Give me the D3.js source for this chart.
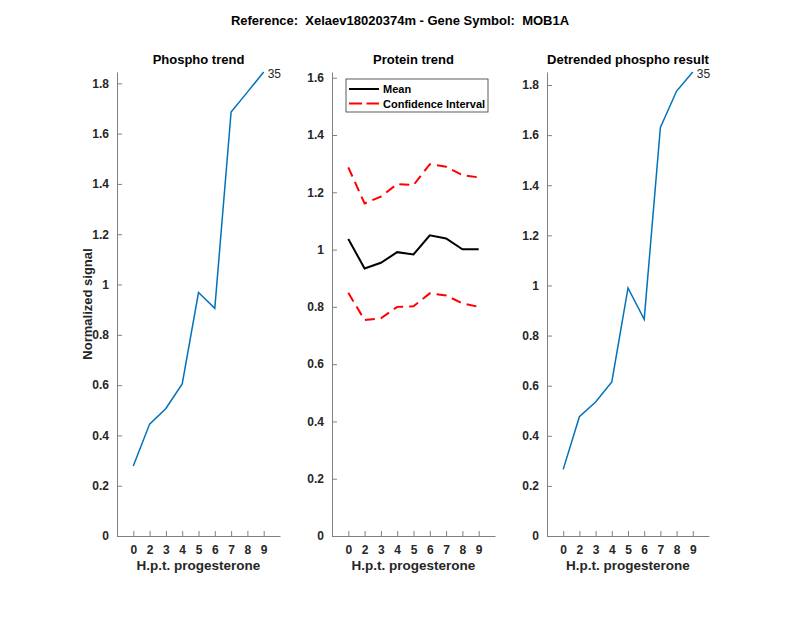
<!DOCTYPE html>
<html>
<head>
<meta charset="utf-8">
<script src="https://cdn.jsdelivr.net/npm/d3@7"></script>
<style>
  body { margin: 0; background: #fff; }
  text { font-family: "Liberation Sans", Arial, sans-serif; white-space: pre; }
</style>
</head>
<body>
<div id="chart"></div>
<script>
const hours = ["0", "2", "3", "4", "5", "6", "7", "8", "9"];
const phospho = [0.278, 0.445, 0.507, 0.605, 0.968, 0.905, 1.686, 1.765, 1.845];
const proteinMean = [1.037, 0.934, 0.954, 0.991, 0.983, 1.05, 1.039, 1.001, 1.001];
const ciUpper = [1.287, 1.161, 1.185, 1.229, 1.225, 1.298, 1.289, 1.26, 1.252];
const ciLower = [0.849, 0.754, 0.76, 0.80, 0.802, 0.847, 0.84, 0.812, 0.80];
const detrended = [0.266, 0.476, 0.535, 0.615, 0.99, 0.865, 1.631, 1.776, 1.852];
const yTicks18 = [0, 0.2, 0.4, 0.6, 0.8, 1, 1.2, 1.4, 1.6, 1.8];
const yTicks16 = [0, 0.2, 0.4, 0.6, 0.8, 1, 1.2, 1.4, 1.6];
const pointLabel = "35";

const width = 800, height = 618;
const plotTop = 72, plotBottom = 536;
const axisColor = "#808080", textColor = "#262626";
const ciDash = "10,6";

const svg = d3.select("#chart").append("svg")
  .attr("width", width).attr("height", height);

svg.append("text")
  .attr("x", 400).attr("y", 25)
  .attr("text-anchor", "middle")
  .style("font-size", "13px").style("font-weight", "bold")
  .attr("fill", "#000")
  .text("Reference:  Xelaev18020374m - Gene Symbol:  MOB1A");

function panel(left, right, yMax, ticks, title) {
  const x = d3.scaleLinear().domain([0, 10]).range([left, right]);
  const y = d3.scaleLinear().domain([0, yMax]).range([plotBottom, plotTop]);
  const g = svg.append("g");

  // x axis
  const xa = g.append("g").attr("transform", `translate(0,${plotBottom})`)
    .call(d3.axisBottom(x).tickValues(d3.range(1, 10)).tickFormat(i => hours[i - 1])
      .tickSizeInner(-5).tickSizeOuter(0).tickPadding(9));
  // y axis
  const ya = g.append("g").attr("transform", `translate(${left},0)`)
    .call(d3.axisLeft(y).tickValues(ticks).tickFormat(d3.format("~g"))
      .tickSizeInner(-5).tickSizeOuter(0).tickPadding(8));
  [xa, ya].forEach(a => {
    a.select(".domain").attr("stroke", axisColor);
    a.selectAll(".tick line").attr("stroke", axisColor);
    a.selectAll(".tick text").attr("fill", textColor)
      .style("font-size", "12px").style("font-weight", "bold")
      .style("font-family", "'Liberation Sans', Arial, sans-serif");
  });

  g.append("text")
    .attr("x", (left + right) / 2).attr("y", 570)
    .attr("text-anchor", "middle").attr("fill", textColor)
    .style("font-size", "13.5px").style("font-weight", "bold")
    .text("H.p.t. progesterone");

  g.append("text")
    .attr("x", (left + right) / 2).attr("y", 64)
    .attr("text-anchor", "middle").attr("fill", "#000")
    .style("font-size", "13px").style("font-weight", "bold")
    .text(title);

  return { g, x, y };
}

function drawLine(p, values, color, width, dash) {
  const line = d3.line().x((d, i) => p.x(i + 1)).y(d => p.y(d));
  p.g.append("path").datum(values)
    .attr("d", line).attr("fill", "none")
    .attr("stroke", color).attr("stroke-width", width)
    .attr("stroke-dasharray", dash || null);
}

function endLabel(p, values) {
  const n = values.length;
  p.g.append("text")
    .attr("x", p.x(n) + 4).attr("y", p.y(values[n - 1]) + 6)
    .attr("fill", textColor).style("font-size", "12px")
    .text(pointLabel);
}

// Panel 1
const p1 = panel(117, 280, 1.845, yTicks18, "Phospho trend");
drawLine(p1, phospho, "#0072BD", 1.5);
endLabel(p1, phospho);
p1.g.append("text")
  .attr("transform", `translate(92,${(plotTop + plotBottom) / 2}) rotate(-90)`)
  .attr("text-anchor", "middle").attr("fill", textColor)
  .style("font-size", "13px").style("font-weight", "bold")
  .text("Normalized signal");

// Panel 2
const p2 = panel(332, 495, 1.62, yTicks16, "Protein trend");
drawLine(p2, proteinMean, "#000", 2);
drawLine(p2, ciUpper, "#ff0000", 2, ciDash);
drawLine(p2, ciLower, "#ff0000", 2, ciDash);

const leg = p2.g.append("g");
leg.append("rect").attr("x", 346).attr("y", 79).attr("width", 142).attr("height", 33)
  .attr("fill", "#fff").attr("stroke", "#333").attr("stroke-width", 0.8);
const legItems = [
  { label: "Mean", color: "#000", dash: null },
  { label: "Confidence Interval", color: "#ff0000", dash: "13,4.5" }
];
legItems.forEach((it, i) => {
  const yy = 89 + i * 14.5;
  leg.append("line").attr("x1", 349).attr("x2", 379).attr("y1", yy).attr("y2", yy)
    .attr("stroke", it.color).attr("stroke-width", 2).attr("stroke-dasharray", it.dash);
  leg.append("text").attr("x", 383).attr("y", yy + 4)
    .attr("fill", "#000").style("font-size", "11px").style("font-weight", "bold")
    .text(it.label);
});

// Panel 3
const p3 = panel(547, 709, 1.852, yTicks18, "Detrended phospho result");
drawLine(p3, detrended, "#0072BD", 1.5);
endLabel(p3, detrended);
</script>
</body>
</html>
